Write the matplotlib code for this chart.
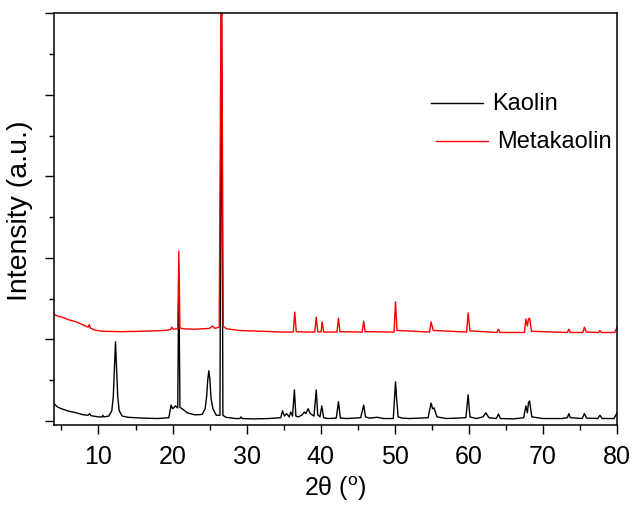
import matplotlib
matplotlib.use("Agg")
import matplotlib.pyplot as plt
from matplotlib.ticker import MultipleLocator, NullFormatter

# two-theta / intensity pairs (arbitrary units)
kaolin_x = [
    4.0, 4.5, 5.0, 6.0, 7.0, 8.0, 8.6, 8.8, 9.0, 10.0, 10.5, 10.6, 10.7, 11.4,
    11.8, 12.0, 12.15, 12.3, 12.45, 12.6, 12.8, 13.2, 14.0, 16.0, 18.0, 19.5,
    19.8, 20.0, 20.2, 20.4, 20.7, 20.85, 21.0, 21.3, 22.0, 23.0, 24.0, 24.4,
    24.6, 24.75, 24.9, 25.05, 25.2, 25.45, 25.9, 26.4, 26.6, 26.8, 27.2, 28.5,
    29.1, 29.25, 29.4, 31.0, 33.0, 34.6, 34.85, 35.1, 35.4, 35.75, 35.95, 36.2,
    36.45, 36.65, 37.0, 37.5, 37.8, 38.0, 38.3, 38.6, 39.1, 39.4, 39.6, 39.9,
    40.15, 40.4, 41.0, 42.1, 42.4, 42.65, 43.5, 45.4, 45.8, 46.05, 46.6, 47.6,
    48.5, 49.8, 50.1, 50.25, 50.45, 51.0, 52.0, 54.5, 54.9, 55.1, 55.3, 55.7,
    57.0, 59.6, 59.9, 60.15, 61.0, 61.9, 62.3, 62.7, 63.7, 64.0, 64.25, 66.0,
    67.4, 67.7, 67.9, 68.05, 68.2, 68.5, 70.0, 72.5, 73.3, 73.5, 73.7, 75.3,
    75.6, 75.9, 77.4, 77.7, 78.0, 79.6, 80.0,
]
kaolin_y = [
    0.42, 0.34, 0.30, 0.24, 0.20, 0.15, 0.14, 0.18, 0.13, 0.10, 0.10, 0.14, 0.10, 0.12,
    0.25, 0.60, 1.30, 1.94, 1.30, 0.60, 0.25, 0.12, 0.09, 0.07, 0.06, 0.08,
    0.39, 0.30, 0.33, 0.37, 0.32, 3.50, 0.33, 0.30, 0.20, 0.15, 0.16, 0.30,
    0.60, 1.00, 1.23, 1.00, 0.55, 0.30, 0.14, 0.14, 11.0, 0.14, 0.09, 0.06,
    0.06, 0.10, 0.06, 0.05, 0.06, 0.08, 0.25, 0.12, 0.18, 0.10, 0.22, 0.12,
    0.76, 0.12, 0.10, 0.15, 0.22, 0.18, 0.30, 0.18, 0.12, 0.76, 0.15, 0.10,
    0.37, 0.08, 0.06, 0.07, 0.47, 0.07, 0.06, 0.08, 0.39, 0.10, 0.07, 0.09,
    0.06, 0.06, 0.96, 0.55, 0.10, 0.07, 0.06, 0.08, 0.44, 0.30, 0.32, 0.10,
    0.06, 0.08, 0.64, 0.10, 0.06, 0.10, 0.20, 0.08, 0.06, 0.17, 0.06, 0.05,
    0.08, 0.37, 0.20, 0.45, 0.49, 0.10, 0.06, 0.06, 0.08, 0.18, 0.08, 0.06,
    0.18, 0.07, 0.06, 0.14, 0.06, 0.06, 0.20,
]

metakaolin_x = [
    4.0, 4.5, 5.0, 6.0, 7.0, 8.0, 8.6, 8.75, 8.9, 9.5, 10.5, 13.0, 16.0, 19.0,
    19.7, 19.9, 20.1, 20.7, 20.85, 21.0, 21.5, 23.0, 25.0, 25.4, 25.7, 26.3,
    26.6, 26.85, 27.3, 29.0, 32.0, 35.0, 36.3, 36.5, 36.7, 38.0, 39.2, 39.4,
    39.6, 40.05, 40.2, 40.4, 42.2, 42.4, 42.6, 45.6, 45.8, 46.0, 49.9, 50.1,
    50.3, 54.7, 54.9, 55.2, 59.7, 59.9, 60.15, 63.8, 64.0, 64.2, 67.5, 67.7,
    67.9, 68.05, 68.2, 68.45, 73.3, 73.5, 73.7, 75.4, 75.6, 75.85, 77.5, 77.7,
    77.9, 79.7, 80.0,
]
metakaolin_y = [
    2.62, 2.57, 2.55, 2.48, 2.43, 2.35, 2.30, 2.36, 2.28, 2.23, 2.20, 2.19, 2.20, 2.22,
    2.24, 2.30, 2.25, 2.26, 4.17, 2.28, 2.26, 2.25, 2.27, 2.33, 2.27, 2.30,
    12.0, 2.32, 2.26, 2.22, 2.20, 2.18, 2.18, 2.67, 2.19, 2.18, 2.18, 2.55,
    2.19, 2.18, 2.43, 2.18, 2.18, 2.52, 2.19, 2.18, 2.45, 2.19, 2.18, 2.92,
    2.22, 2.18, 2.43, 2.22, 2.18, 2.65, 2.21, 2.17, 2.25, 2.17, 2.17, 2.50,
    2.33, 2.50, 2.52, 2.20, 2.17, 2.25, 2.17, 2.17, 2.30, 2.18, 2.17, 2.22,
    2.17, 2.17, 2.30,
]

series_labels = ["Kaolin", "Metakaolin"]
series_colors = ["black", "red"]

plt.rcParams["font.family"] = ["Liberation Sans", "DejaVu Sans"]
plt.rcParams["mathtext.fontset"] = "custom"
plt.rcParams["mathtext.rm"] = "Liberation Sans"

figure = plt.figure(figsize=(6.37, 5.06), dpi=100)
axis = figure.add_axes([0.0848, 0.158, 0.8838, 0.814])

axis.plot(kaolin_x, kaolin_y, color=series_colors[0], lw=1.0)
axis.plot(metakaolin_x, metakaolin_y, color=series_colors[1], lw=1.0)

axis.set_xlim(4, 80)
axis.set_ylim(-0.1, 10)
axis.xaxis.set_major_locator(MultipleLocator(10))
axis.xaxis.set_minor_locator(MultipleLocator(5))
axis.yaxis.set_major_locator(MultipleLocator(2))
axis.yaxis.set_minor_locator(MultipleLocator(1))
axis.yaxis.set_major_formatter(NullFormatter())
axis.tick_params(axis="both", which="major", direction="out", length=6.5, width=1.0,
                 labelsize=18, top=False, right=False)
axis.tick_params(axis="both", which="minor", direction="out", length=3.5, width=1.0,
                 top=False, right=False)
axis.tick_params(axis="x", pad=7)
for spine in axis.spines.values():
    spine.set_linewidth(1.1)

axis.set_xlabel(r"2θ ($^{\mathrm{o}}$)", fontsize=18, labelpad=4)
axis.set_ylabel("Intensity (a.u.)", fontsize=20.5, labelpad=5, y=0.522)

# legend entries are drawn by hand: the two rows are not aligned in the original
legend_rows = [(0.670, 0.783), (0.678, 0.690)]
for (lx, ly), label, color in zip(legend_rows, series_labels, series_colors):
    axis.plot([lx, lx + 0.092], [ly, ly], color=color, lw=1.0,
              transform=axis.transAxes, clip_on=False)
    axis.text(lx + 0.109, ly, label, fontsize=17, va="center", ha="left",
              transform=axis.transAxes)

figure.savefig("out.png", dpi=100)
